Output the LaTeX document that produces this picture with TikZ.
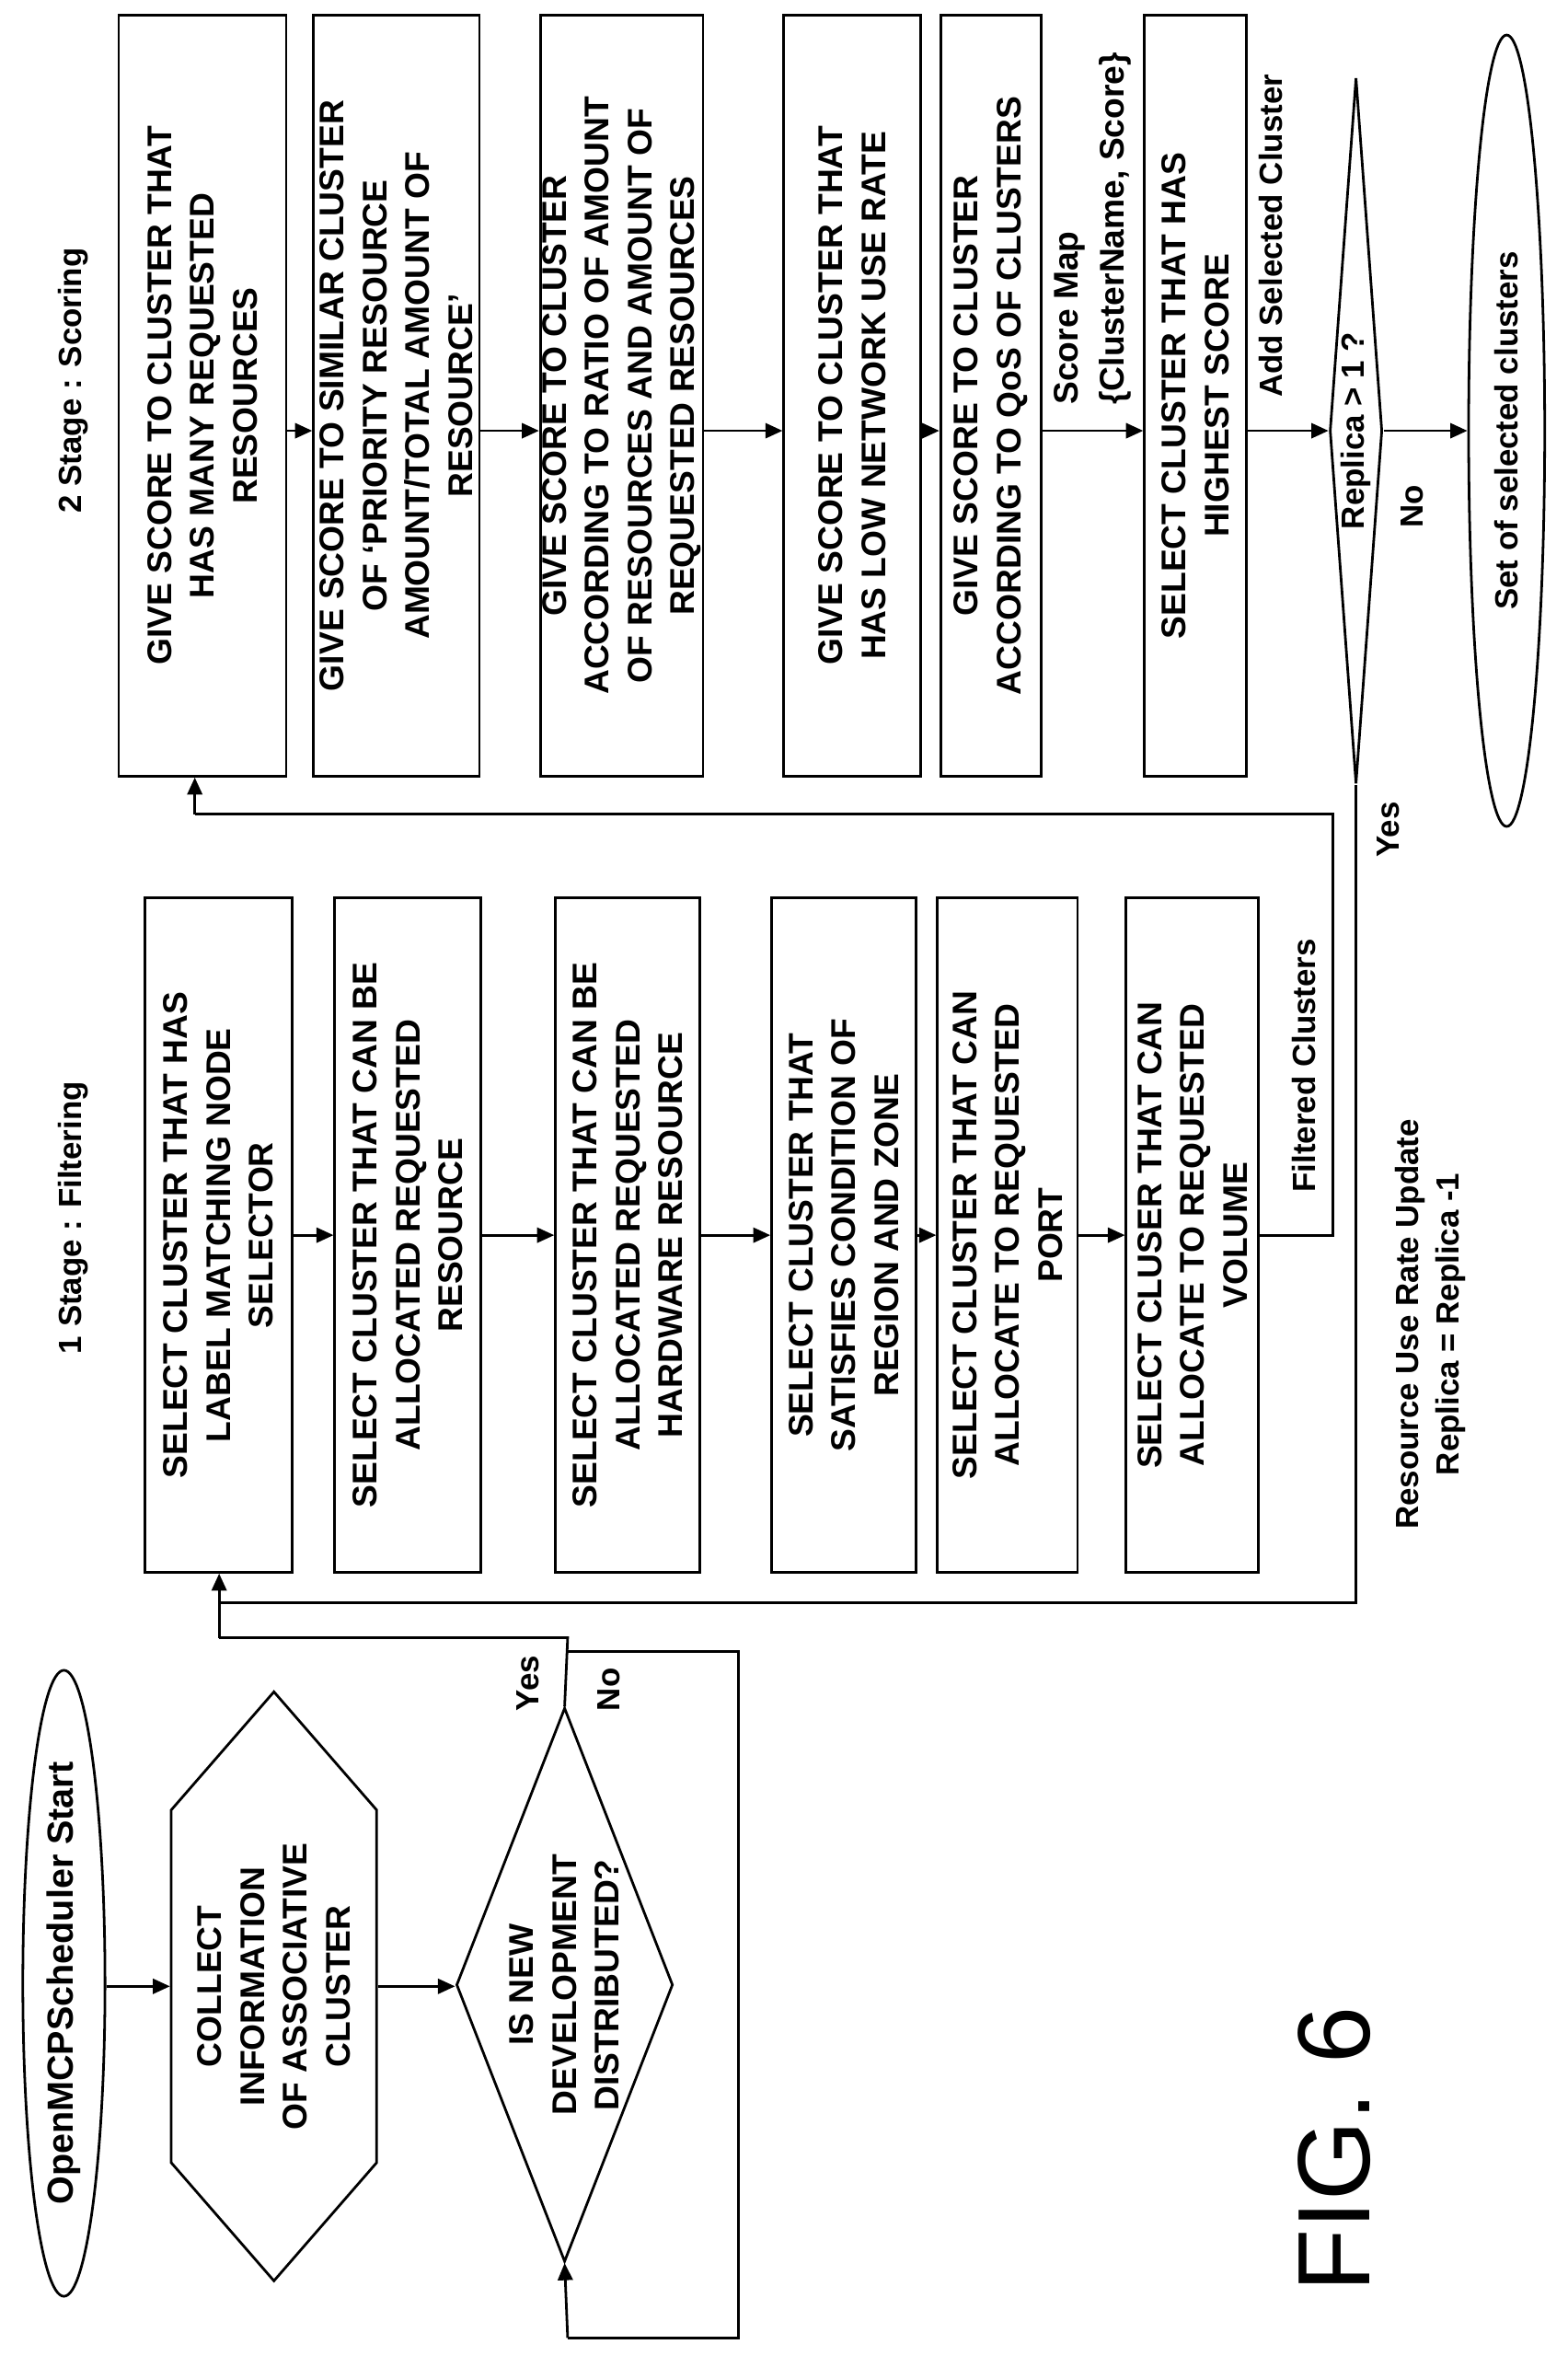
\documentclass[tikz,border=0pt]{standalone}
\usepackage{fontspec}
\setmainfont{Liberation Sans}
\usetikzlibrary{shapes.geometric,shapes.symbols,arrows.meta}
\begin{document}
\begin{tikzpicture}[x=0.05cm,y=-0.05cm,
  line width=2.4pt,
  arr/.style={-{Triangle[length=16pt,width=14pt]}},
  box/.style={draw,rectangle,rotate=90,align=center,inner sep=0pt,
    font=\fontsize{32}{40}\selectfont\bfseries},
  lab/.style={rotate=90,align=center,inner sep=2pt,font=\fontsize{30}{38}\selectfont\bfseries}]
\useasboundingbox (0,0) rectangle (1030,1563);
% stage labels
\node[lab] (l1) at (48,800) {1 Stage : Filtering};
\node[lab] (l2) at (48,250) {2 Stage : Scoring};
% start
\node[draw,ellipse,rotate=90,minimum width=18.1cm,minimum height=2.7cm,inner sep=0pt,
  font=\fontsize{34}{40}\selectfont\bfseries] (st) at (42,1303) {OpenMCPScheduler Start};
\node[draw,signal,signal to=east and west,signal pointer angle=82,rotate=90,
  minimum width=19.35cm,minimum height=6.75cm,inner sep=0pt,align=center,
  font=\fontsize{32}{40}\selectfont\bfseries] (hx) at (180,1305)
  {COLLECT\\INFORMATION\\OF ASSOCIATIVE\\CLUSTER};
\node[draw,diamond,aspect=2.44,rotate=90,minimum width=18.2cm,inner sep=0pt,align=center,
  font=\fontsize{32}{40}\selectfont\bfseries] (d1) at (371,1304)
  {IS NEW\\DEVELOPMENT\\DISTRIBUTED?};
% filtering
\node[box,minimum width=22.15cm,minimum height=4.85cm] (f1) at (143.5,811.5) {SELECT CLUSTER THAT HAS\\LABEL MATCHING NODE\\SELECTOR};
\node[box,minimum width=22.15cm,minimum height=4.8cm] (f2) at (268,811.5) {SELECT CLUSTER THAT CAN BE\\ALLOCATED REQUESTED\\RESOURCE};
\node[box,minimum width=22.15cm,minimum height=4.75cm] (f3) at (412.5,811.5) {SELECT CLUSTER THAT CAN BE\\ALLOCATED REQUESTED\\HARDWARE RESOURCE};
\node[box,minimum width=22.15cm,minimum height=4.75cm] (f4) at (554.5,811.5) {SELECT CLUSTER THAT\\SATISFIES CONDITION OF\\REGION AND ZONE};
\node[box,minimum width=22.15cm,minimum height=4.6cm] (f5) at (662,811.5) {SELECT CLUSTER THAT CAN\\ALLOCATE TO REQUESTED\\PORT};
\node[box,minimum width=22.15cm,minimum height=4.35cm] (f6) at (783.5,811.5) {SELECT CLUSER THAT CAN\\ALLOCATE TO REQUESTED\\VOLUME};
% scoring
\node[box,minimum width=25cm,minimum height=5.5cm] (s1) at (133,260) {GIVE SCORE TO CLUSTER THAT\\HAS MANY REQUESTED\\RESOURCES};
\node[box,minimum width=25cm,minimum height=5.45cm] (s2) at (260.5,260) {GIVE SCORE TO SIMILAR CLUSTER\\OF ‘PRIORITY RESOURCE\\AMOUNT/TOTAL AMOUNT OF\\RESOURCE’};
\node[box,minimum width=25cm,minimum height=5.35cm] (s3) at (408.5,260) {GIVE SCORE TO CLUSTER\\ACCORDING TO RATIO OF AMOUNT\\OF RESOURCES AND AMOUNT OF\\REQUESTED RESOURCES};
\node[box,minimum width=25cm,minimum height=4.5cm] (s4) at (560,260) {GIVE SCORE TO CLUSTER THAT\\HAS LOW NETWORK USE RATE};
\node[box,minimum width=25cm,minimum height=3.3cm] (s5) at (651,260) {GIVE SCORE TO CLUSTER\\ACCORDING TO QoS OF CLUSTERS};
\node[box,minimum width=25cm,minimum height=3.35cm] (s6) at (785.5,260) {SELECT CLUSTER THAT HAS\\HIGHEST SCORE};
\node[draw,diamond,aspect=8.7,rotate=90,minimum width=23.2cm,inner sep=0pt,
  font=\fontsize{30}{36}\selectfont\bfseries] (d2) at (891,283) {Replica > 1 ?};
\node[draw,ellipse,rotate=90,minimum width=26cm,minimum height=2.5cm,inner sep=0pt,
  font=\fontsize{30}{36}\selectfont\bfseries] (en) at (990,283) {Set of selected clusters};
% labels
\node[lab] (yes1) at (347,1106) {Yes};
\node[lab] (no1) at (400,1110) {No};
\node[lab] (fc) at (857,700) {Filtered Clusters};
\node[lab,anchor=west,align=left,font=\fontsize{32}{43}\selectfont\bfseries] (sm) at (718,268) {Score Map\\\{ClusterName, Score\}};
\node[lab] (asc) at (835,155) {Add Selected Cluster};
\node[lab] (no2) at (928,333) {No};
\node[lab] (yes2) at (912,545) {Yes};
\node[lab] (ru) at (940,870) {Resource Use Rate Update\\Replica = Replica -1};
\node[rotate=90,inner sep=0pt,font=\fontsize{96}{96}\selectfont] (fig) at (877,1412) {FIG. 6};
% coordinates
\coordinate (ja) at (373,1076);
\coordinate (jb) at (144,1076);
\coordinate (jn) at (373,1085);
\coordinate (jc) at (485,1085);
\coordinate (jd) at (485,1536);
\coordinate (je) at (373,1536);
\coordinate (ya) at (891,1053);
\coordinate (yb) at (144,1053);
\coordinate (fa) at (876,811.5);
\coordinate (fb) at (876,535);
\coordinate (fcx) at (128,535);
\coordinate (r1) at (0,1305);
\coordinate (r2) at (0,283);
% connectors
\draw[arr] (st.south |- r1) -- (hx.north |- r1);
\draw[arr] (hx.south |- r1) -- (d1.north |- r1);
\draw (d1.east) -- (ja) -- (jb);
\draw[arr] (jb) -- (f1.west -| jb);
\draw (jn) -- (jc) -- (jd) -- (je);
\draw[arr] (je) -- (d1.west);
\draw[arr] (f1.south) -- (f2.north);
\draw[arr] (f2.south) -- (f3.north);
\draw[arr] (f3.south) -- (f4.north);
\draw[arr] (f4.south) -- (f5.north);
\draw[arr] (f5.south) -- (f6.north);
\draw (f6.south) -- (fa) -- (fb) -- (fcx);
\draw[arr] (fcx) -- (s1.west -| fcx);
\draw[arr] (s1.south |- r2) -- (s2.north |- r2);
\draw[arr] (s2.south |- r2) -- (s3.north |- r2);
\draw[arr] (s3.south |- r2) -- (s4.north |- r2);
\draw[arr] (s4.south |- r2) -- (s5.north |- r2);
\draw[arr] (s5.south |- r2) -- (s6.north |- r2);
\draw[arr] (s6.south |- r2) -- (d2.north);
\draw[arr] (d2.south) -- (en.north |- d2.south);
\draw (d2.west) -- (ya) -- (yb);
\end{tikzpicture}
\end{document}
